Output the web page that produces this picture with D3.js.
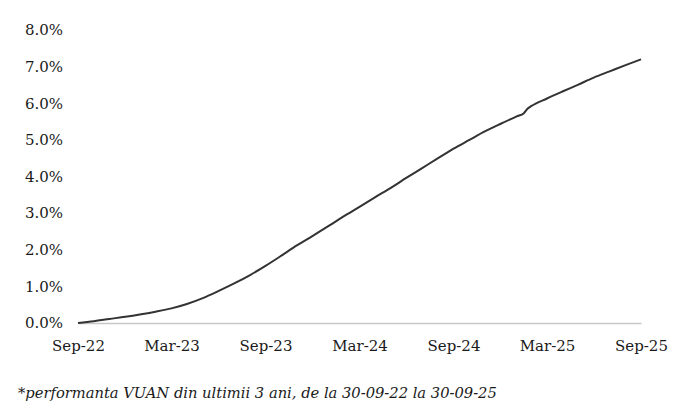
<!DOCTYPE html>
<html>
<head>
<meta charset="utf-8">
<script src="https://cdn.jsdelivr.net/npm/d3@7"></script>
<style>
  html, body { margin: 0; padding: 0; background: #fff; }
  svg { display: block; }
  text { font-family: "DejaVu Serif", Georgia, serif; fill: #1a1a1a; }
</style>
</head>
<body>
<svg id="chart" width="684" height="412"></svg>
<script>
// ---- data ----
const dates = [
  "2022-09-30","2022-10-31","2022-11-30","2022-12-31","2023-01-31","2023-02-28","2023-03-31",
  "2023-04-30","2023-05-31","2023-06-30","2023-07-31","2023-08-31","2023-09-30",
  "2023-10-31","2023-11-30","2023-12-31","2024-01-31","2024-02-29","2024-03-31",
  "2024-04-30","2024-05-31","2024-06-30","2024-07-31","2024-08-31","2024-09-30",
  "2024-10-31","2024-11-30","2024-12-31","2025-01-31","2025-02-14","2025-02-21","2025-02-28","2025-03-31",
  "2025-04-30","2025-05-31","2025-06-30","2025-07-31","2025-08-31","2025-09-30"
];
const values = [
  0.00, 0.05, 0.11, 0.17, 0.24, 0.31, 0.40,
  0.52, 0.68, 0.87, 1.08, 1.31, 1.56,
  1.84, 2.12, 2.38, 2.65, 2.91, 3.17,
  3.43, 3.69, 3.96, 4.23, 4.50, 4.76,
  5.00, 5.23, 5.44, 5.64, 5.73, 5.85, 5.92, 6.13,
  6.32, 6.51, 6.70, 6.87, 7.04, 7.20
];
const tickDates = ["2022-09-30","2023-03-31","2023-09-30","2024-03-31","2024-09-30","2025-03-31","2025-09-30"];
const tickLabels = ["Sep-22","Mar-23","Sep-23","Mar-24","Sep-24","Mar-25","Sep-25"];
const yTicks = [0, 1, 2, 3, 4, 5, 6, 7, 8];
const caption = "*performanta VUAN din ultimii 3 ani, de la 30-09-22 la 30-09-25";

// ---- layout ----
const parse = d3.utcParse("%Y-%m-%d");
const data = dates.map((d, i) => ({ date: parse(d), value: values[i] }));
const margin = { left: 78, right: 43, top: 30, bottom: 89 };
const W = 684, H = 412;

const svg = d3.select("#chart");
const x = d3.scaleUtc()
  .domain([parse(dates[0]), parse(dates[dates.length - 1])])
  .range([margin.left, W - margin.right]);
const y = d3.scaleLinear()
  .domain([0, 8])
  .range([H - margin.bottom, margin.top]);

// y axis labels (no line, no ticks)
const yAxis = d3.axisLeft(y)
  .tickValues(yTicks)
  .tickFormat(d => d3.format(".1f")(d) + "%")
  .tickSize(0)
  .tickPadding(15);
const gy = svg.append("g")
  .attr("transform", `translate(${margin.left},0)`)
  .call(yAxis);
gy.select(".domain").remove();
gy.selectAll("text")
  .style("font-family", "'DejaVu Serif', serif")
  .style("font-size", "15px")
  .attr("fill", "#111");

// x axis baseline + labels
const xAxis = d3.axisBottom(x)
  .tickValues(tickDates.map(parse))
  .tickFormat((d, i) => tickLabels[i])
  .tickSize(0)
  .tickPadding(17);
const gx = svg.append("g")
  .attr("transform", `translate(0,${y(0)})`)
  .call(xAxis);
gx.select(".domain").attr("stroke", "#c8c8c8").attr("stroke-width", 1.3);
gx.selectAll("text")
  .style("font-family", "'DejaVu Serif', serif")
  .style("font-size", "15px")
  .attr("fill", "#111");

// line
const line = d3.line()
  .x(d => x(d.date))
  .y(d => y(d.value))
  .curve(d3.curveMonotoneX);
svg.append("path")
  .datum(data)
  .attr("d", line)
  .attr("fill", "none")
  .attr("stroke", "#333")
  .attr("stroke-width", 2);

// caption
svg.append("text")
  .attr("x", 18)
  .attr("y", 398)
  .style("font-style", "italic")
  .style("font-size", "14.7px")
  .attr("fill", "#333")
  .text(caption);
</script>
</body>
</html>
